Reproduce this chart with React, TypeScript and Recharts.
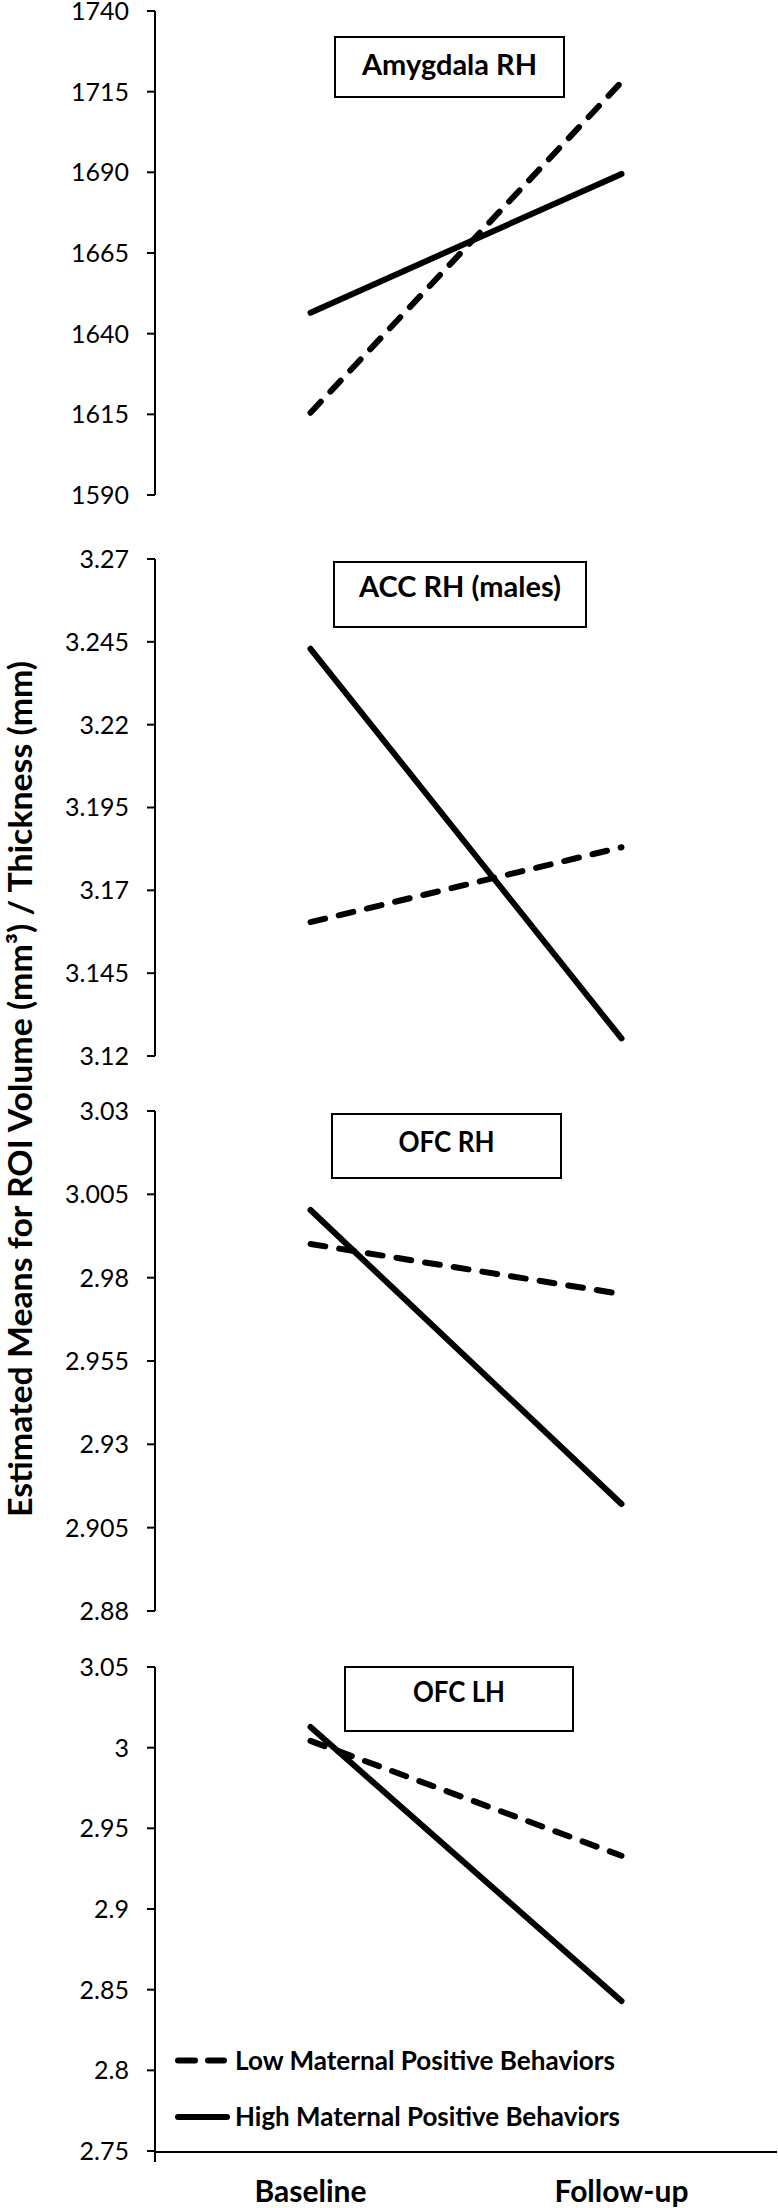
import React from 'react';
import { LineChart, Line, XAxis, YAxis, Legend } from 'recharts';

// ---------- data ----------
const categories = ['Baseline', 'Follow-up'];
const seriesNames = ['Low Maternal Positive Behaviors', 'High Maternal Positive Behaviors'];

const lowAmygdala = [1615.5, 1718];
const highAmygdala = [1646.5, 1689.5];
const lowACC = [3.1604, 3.183];
const highACC = [3.2429, 3.1253];
const lowOFCRH = [2.9901, 2.9751];
const highOFCRH = [3.0003, 2.9121];
const lowOFCLH = [3.0042, 2.933];
const highOFCLH = [3.0128, 2.843];

const ticksAmygdala = [1590, 1615, 1640, 1665, 1690, 1715, 1740];
const ticksACC = [3.12, 3.145, 3.17, 3.195, 3.22, 3.245, 3.27];
const ticksOFCRH = [2.88, 2.905, 2.93, 2.955, 2.98, 3.005, 3.03];
const ticksOFCLH = [2.75, 2.8, 2.85, 2.9, 2.95, 3, 3.05];

const panelTitles = ['Amygdala  RH', 'ACC RH (males)', 'OFC RH', 'OFC LH'];
const yAxisTitle = 'Estimated Means for ROI Volume (mm³) / Thickness (mm)';
const frameTicks = [0, 1, 2];

// ---------- layout ----------
const FONT = 'Lato, "Open Sans", sans-serif';
const W = 778;

const panels = [
  { low: lowAmygdala, high: highAmygdala, ticks: ticksAmygdala, top: 0, height: 520, mt: 11, mb: 25,
    box: { x: 335, y: 37, w: 229, h: 60, base: 75, len: 175 } },
  { low: lowACC, high: highACC, ticks: ticksACC, top: 530, height: 550, mt: 29, mb: 24,
    box: { x: 334, y: 562, w: 252, h: 65, base: 597, len: 202 } },
  { low: lowOFCRH, high: highOFCRH, ticks: ticksOFCRH, top: 1085, height: 550, mt: 26, mb: 24,
    box: { x: 332, y: 1114, w: 229, h: 64, base: 1152, len: 96 } },
  { low: lowOFCLH, high: highOFCLH, ticks: ticksOFCLH, top: 1640, height: 568, mt: 27, mb: 55,
    box: { x: 345, y: 1667, w: 228, h: 64, base: 1702, len: 92 } },
];

const LegendContent = () => (
  <svg width={W} height={110} style={{ display: 'block' }}>
    <line x1={178} x2={224} y1={30.6} y2={30.6} stroke="#000" strokeWidth={6}
      strokeDasharray="17 13" strokeLinecap="round" />
    <text x={235} y={40} fontFamily={FONT} fontWeight={700} fontSize={26} fill="#000"
      textLength={380} lengthAdjust="spacingAndGlyphs">{seriesNames[0]}</text>
    <line x1={178} x2={227} y1={87} y2={87} stroke="#000" strokeWidth={6} strokeLinecap="round" />
    <text x={235} y={96} fontFamily={FONT} fontWeight={700} fontSize={26} fill="#000"
      textLength={385} lengthAdjust="spacingAndGlyphs">{seriesNames[1]}</text>
  </svg>
);

function Panel({ idx }: { idx: number }) {
  const p = panels[idx];
  const last = idx === panels.length - 1;
  const data = categories.map((c, i) => ({ cat: c, low: p.low[i], high: p.high[i] }));
  const lo = p.ticks[0];
  const hi = p.ticks[p.ticks.length - 1];
  return (
    <div style={{ position: 'absolute', left: 0, top: p.top, width: W, height: p.height }}>
      <LineChart width={W} height={p.height} data={data}
        margin={{ top: p.mt, right: 1, bottom: p.mb, left: 0 }}>
        <XAxis xAxisId="frame" type="number" domain={[0, 2]} ticks={frameTicks}
          allowDataOverflow hide={!last} height={1}
          axisLine={{ stroke: '#000', strokeWidth: 2 }}
          tickLine={{ stroke: '#000', strokeWidth: 2 }} tickSize={10}
          tickFormatter={() => ''} />
        <XAxis xAxisId="cat" dataKey="cat" type="category" hide={!last} height={1}
          padding={{ left: 155.5, right: 155.5 }}
          axisLine={false} tickLine={false} tickSize={0} tickMargin={30}
          tick={{ fill: '#000', fontFamily: FONT, fontWeight: 700, fontSize: 30 }} />
        <YAxis type="number" domain={[lo, hi]} ticks={p.ticks} interval={0} width={155}
          axisLine={{ stroke: '#000', strokeWidth: 2 }}
          tickLine={{ stroke: '#000', strokeWidth: 2 }} tickSize={8} tickMargin={18}
          tick={{ fill: '#000', fontFamily: FONT, fontSize: 25 }} />
        <Line xAxisId="cat" dataKey="low" name={seriesNames[0]} stroke="#000" strokeWidth={6}
          strokeDasharray="15 14" strokeLinecap="round" dot={false} activeDot={false}
          isAnimationActive={false} />
        <Line xAxisId="cat" dataKey="high" name={seriesNames[1]} stroke="#000" strokeWidth={6}
          strokeLinecap="round" dot={false} activeDot={false} isAnimationActive={false} />
        {last && (
          <Legend verticalAlign="middle" align="center" layout="vertical"
            wrapperStyle={{ position: 'absolute', left: 0, top: 390, width: W, height: 110 }}
            content={() => <LegendContent />} />
        )}
      </LineChart>
    </div>
  );
}

export default function App() {
  return (
    <div style={{ position: 'absolute', left: 0, top: 0, width: W, height: 2208, background: '#fff' }}>
      {panels.map((_, i) => <Panel key={i} idx={i} />)}
      <svg width={W} height={2208} style={{ position: 'absolute', left: 0, top: 0, pointerEvents: 'none' }}>
        {panels.map((p, i) => (
          <g key={i}>
            <rect x={p.box.x} y={p.box.y} width={p.box.w} height={p.box.h} fill="#fff"
              stroke="#000" strokeWidth={2} />
            <text x={p.box.x + p.box.w / 2} y={p.box.base} textAnchor="middle" fontFamily={FONT}
              fontWeight={700} fontSize={28} fill="#000" textLength={p.box.len}
              lengthAdjust="spacingAndGlyphs">{panelTitles[i]}</text>
          </g>
        ))}
        <text transform="translate(32,1089) rotate(-90)" textAnchor="middle" fontFamily={FONT}
          fontWeight={700} fontSize={32} fill="#000" textLength={856}
          lengthAdjust="spacingAndGlyphs">{yAxisTitle}</text>
      </svg>
    </div>
  );
}
